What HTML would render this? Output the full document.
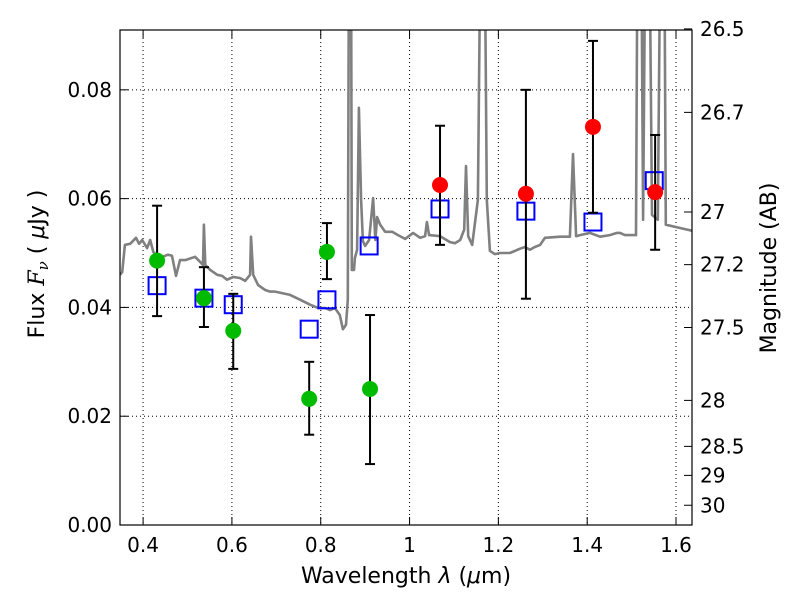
<!DOCTYPE html>
<html><head><meta charset="utf-8"><style>
body{margin:0;background:#fff;}
svg text{font-family:"DejaVu Sans","Liberation Sans",sans-serif;}
</style></head><body>
<svg id="chart" width="800" height="600"></svg>
<script>
const specX=[0.348,0.353,0.359,0.371,0.384,0.391,0.398,0.409,0.416,0.423,0.438,0.456,0.465,0.474,0.483,0.495,0.517,0.528,0.535,0.537,0.540,0.551,0.567,0.578,0.589,0.603,0.618,0.630,0.641,0.643,0.648,0.659,0.675,0.686,0.697,0.731,0.754,0.776,0.794,0.810,0.821,0.832,0.843,0.850,0.857,0.861,0.864,0.868,0.870,0.875,0.877,0.882,0.886,0.891,0.895,0.900,0.909,0.918,0.923,0.927,0.934,0.945,0.961,0.974,0.990,1.008,1.024,1.035,1.039,1.044,1.069,1.091,1.102,1.114,1.123,1.127,1.132,1.141,1.154,1.161,1.168,1.174,1.181,1.192,1.204,1.226,1.249,1.260,1.271,1.282,1.294,1.305,1.339,1.361,1.368,1.375,1.384,1.406,1.429,1.451,1.467,1.474,1.485,1.508,1.510,1.514,1.521,1.526,1.532,1.539,1.546,1.559,1.566,1.573,1.577,1.609,1.636];
const specY=[0.0460,0.0465,0.0515,0.0517,0.0528,0.0517,0.0524,0.0509,0.0524,0.0502,0.0491,0.0497,0.0495,0.0458,0.0487,0.0487,0.0493,0.0484,0.0478,0.0552,0.0478,0.0469,0.0460,0.0458,0.0451,0.0456,0.0454,0.0449,0.0460,0.0530,0.0460,0.0441,0.0432,0.0429,0.0429,0.0423,0.0414,0.0405,0.0399,0.0399,0.0395,0.0399,0.0386,0.0360,0.0368,0.0414,0.1200,0.1200,0.0469,0.0469,0.0491,0.0506,0.0767,0.0598,0.0522,0.0513,0.0524,0.0601,0.0524,0.0566,0.0552,0.0539,0.0539,0.0533,0.0526,0.0537,0.0528,0.0531,0.0557,0.0533,0.0531,0.0520,0.0518,0.0524,0.0543,0.0660,0.0531,0.0515,0.0598,0.1200,0.1200,0.0598,0.0504,0.0498,0.0500,0.0500,0.0508,0.0511,0.0506,0.0511,0.0515,0.0528,0.0530,0.0530,0.0682,0.0531,0.0533,0.0537,0.0530,0.0533,0.0537,0.0537,0.0533,0.0533,0.0533,0.1200,0.1200,0.0561,0.1200,0.1200,0.0570,0.0561,0.1200,0.1200,0.0552,0.0546,0.0541];
const greenX=[0.4315,0.537,0.603,0.774,0.814,0.911];
const greenY=[0.0486,0.0417,0.0357,0.0232,0.0502,0.0250];
const greenLo=[0.0384,0.0364,0.0287,0.0166,0.0452,0.0112];
const greenHi=[0.0587,0.0474,0.0425,0.0300,0.0555,0.0386];
const redX=[1.0686,1.262,1.413,1.553];
const redY=[0.0625,0.0609,0.0732,0.0612];
const redLo=[0.0515,0.0416,0.0574,0.0506];
const redHi=[0.0734,0.0800,0.0890,0.0717];
const blueX=[0.4315,0.537,0.603,0.774,0.814,0.909,1.0686,1.262,1.413,1.551];
const blueY=[0.0440,0.0417,0.0405,0.0360,0.0414,0.0513,0.0581,0.0577,0.0557,0.0633];
const xTicks=[0.4,0.6,0.8,1.0,1.2,1.4,1.6];
const xTickLabels=["0.4","0.6","0.8","1","1.2","1.4","1.6"];
const yTicks=[0,0.02,0.04,0.06,0.08];
const yTickLabels=["0.00","0.02","0.04","0.06","0.08"];
const magTicks=[26.5,26.7,27,27.2,27.5,28,28.5,29,30];
const magTickLabels=["26.5","26.7","27","27.2","27.5","28","28.5","29","30"];

const L=120,R=692,T=30,B=525,x0=0.348,x1=1.636,y0=0,y1=0.0910;
const sx=v=>L+(v-x0)/(x1-x0)*(R-L);
const sy=v=>B-(v-y0)/(y1-y0)*(B-T);
const svg=document.getElementById('chart');
const NS='http://www.w3.org/2000/svg';
function mk(tag,attrs,parent){const e=document.createElementNS(NS,tag);for(const k in attrs)e.setAttribute(k,attrs[k]);(parent||svg).appendChild(e);return e;}

const defs=mk('defs',{});
const cp=mk('clipPath',{id:'clip'},defs);
mk('rect',{x:L,y:T,width:R-L,height:B-T},cp);

xTicks.forEach((t,i)=>{
  const g=mk('line',{x1:sx(t),x2:sx(t),y1:T,y2:B,stroke:'#000','stroke-width':1,'stroke-dasharray':'1,3'});
  
  
});
yTicks.forEach((t,i)=>{
  const g=mk('line',{x1:L,x2:R,y1:sy(t),y2:sy(t),stroke:'#000','stroke-width':1,'stroke-dasharray':'1,3'});
  
  
});

const pts=specX.map((x,i)=>sx(x).toFixed(1)+','+sy(specY[i]).toFixed(1)).join(' ');
const sp=mk('polyline',{points:pts,fill:'none',stroke:'#808080','stroke-width':2.6,'clip-path':'url(#clip)','stroke-linejoin':'round'});



blueX.forEach((x,i)=>{
  const r=mk('rect',{x:sx(x)-8.5,y:sy(blueY[i])-8.5,width:17,height:17,fill:'none',stroke:'#0000ff','stroke-width':2});
  
  
});

function errbar(x,lo,hi,name){
  const g=mk('g',{stroke:'#000','stroke-width':2});
  
  
  const X=sx(x);
  mk('line',{x1:X,x2:X,y1:sy(lo),y2:sy(hi)},g);
  mk('line',{x1:X-5,x2:X+5,y1:sy(lo),y2:sy(lo)},g);
  mk('line',{x1:X-5,x2:X+5,y1:sy(hi),y2:sy(hi)},g);
}
greenX.forEach((x,i)=>{
  errbar(x,greenLo[i],greenHi[i],'green-errorbar');
  const c=mk('circle',{cx:sx(x),cy:sy(greenY[i]),r:8,fill:'#00bb00'});
  
  
});
redX.forEach((x,i)=>{
  errbar(x,redLo[i],redHi[i],'red-errorbar');
  const c=mk('circle',{cx:sx(x),cy:sy(redY[i]),r:8,fill:'#ff0000'});
  
  
});

const fr=mk('rect',{x:L,y:T,width:R-L,height:B-T,fill:'none',stroke:'#000','stroke-width':1.2});



xTicks.forEach((t,i)=>{
  mk('line',{x1:sx(t),x2:sx(t),y1:B,y2:B-8,stroke:'#000'});
  mk('line',{x1:sx(t),x2:sx(t),y1:T,y2:T+8,stroke:'#000'});
  const tx=mk('text',{x:sx(t),y:B+27,'font-size':20,'text-anchor':'middle'});
  tx.textContent=xTickLabels[i];
  
  
});
yTicks.forEach((t,i)=>{
  mk('line',{x1:L,x2:L+8,y1:sy(t),y2:sy(t),stroke:'#000'});
  const tx=mk('text',{x:L-8,y:sy(t)+7,'font-size':20,'text-anchor':'end'});
  tx.textContent=yTickLabels[i];
  
  
});
magTicks.forEach((m,i)=>{
  const f=Math.pow(10,(23.9-m)/2.5);
  const y=sy(f);
  mk('line',{x1:R,x2:R-8,y1:y,y2:y,stroke:'#000'});
  const tx=mk('text',{x:R+8,y:y+7,'font-size':20,'text-anchor':'start'});
  tx.textContent=magTickLabels[i];
  
  
});
</script>
<svg width="800" height="600" style="position:absolute;left:0;top:0">
<text x="406" y="583" font-size="22" text-anchor="middle" font-family="DejaVu Sans, sans-serif">Wavelength  <tspan font-style="italic">λ</tspan> (<tspan font-style="italic">μ</tspan>m)</text>
<text transform="translate(44,264) rotate(-90)" font-size="22" text-anchor="middle" font-family="DejaVu Sans, sans-serif">Flux  <tspan font-style="italic" font-family="DejaVu Serif, serif">F<tspan font-size="15" dy="4">ν</tspan></tspan><tspan dy="-4">  ( </tspan><tspan font-style="italic">μ</tspan>Jy )</text>
<text transform="translate(776,268) rotate(-90)" font-size="22" text-anchor="middle" font-family="DejaVu Sans, sans-serif">Magnitude (AB)</text>
</svg>
</body></html>
